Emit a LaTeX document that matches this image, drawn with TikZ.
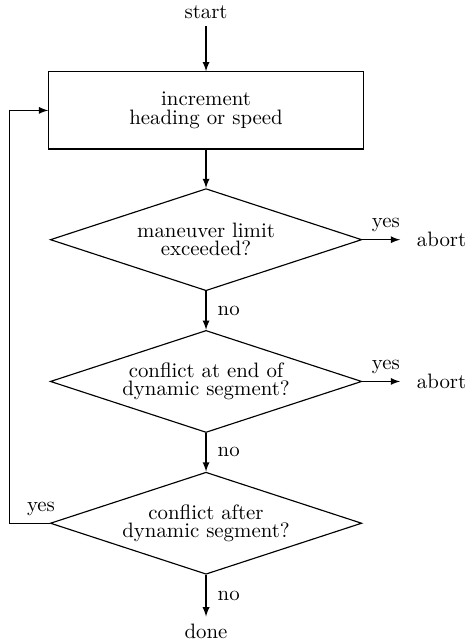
\documentclass[tikz,border=0pt]{standalone}
\usetikzlibrary{shapes.geometric}
\usetikzlibrary{arrows,chains,positioning}

\begin{document}
\begin{tikzpicture}[>=latex, line width=0.55pt,
    stepbox/.style={rectangle, draw, align=center, minimum width=151pt, minimum height=37pt, font=\fontsize{10}{9.2}\selectfont},
    decision/.style={diamond, draw, aspect=3.05, inner sep=1pt, minimum width=149.5pt, minimum height=49pt, align=center, font=\fontsize{10}{8.8}\selectfont},
    start chain=going below, node distance=18.5pt]
            \useasboundingbox (-98.9pt,53pt) rectangle (124.3pt,-254.2pt);

            \node[stepbox, on chain] (box) {increment\\heading or speed};
            \foreach \n/ \t in {d1/{maneuver limit\\exceeded?}, d2/{conflict at end of\\dynamic segment?}, d3/{conflict after\\dynamic segment?}}{
                \node[decision, on chain] (\n) {\t};
            }

            \node[above=21.6pt of box] (start) {start};
            \node[below=20pt of d3] (done) {done};


            \foreach \d in {d1,d2}{
                \node[right=22.6pt of \d] (abort\d) {abort};
                \draw[->, shorten >=4.5pt] (\d) -- node[above] {yes} (abort\d);
            }


            \draw[->] (start) -- (box);
            \draw[->] (box) -- (d1);
            \draw[->] (d1) -- node[right=2pt] {no} (d2);
            \draw[->] (d2) -- node[right=2pt] {no} (d3);
            \draw[->] (d3) -- node[right=2pt] {no} (done);
            \draw[->] (d3.west) -- node[above, pos=0.22] {yes} ++(-19.2pt,0) |- (box.west);

    \end{tikzpicture}
\end{document}
